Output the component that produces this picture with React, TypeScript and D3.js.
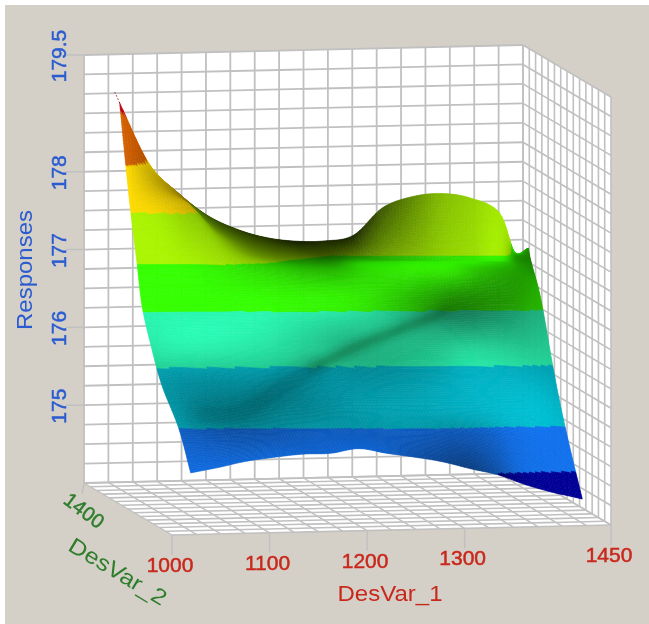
import React, { useEffect, useRef } from 'react';
import * as d3 from 'd3';

// axis ticks
const desVar1Ticks = [1000, 1100, 1200, 1300, 1450];
const responseTicks = [175, 176, 177, 178, 179.5];
const desVar2Ticks = [1400];

// surface nodes, front row first
const rowDesVar1Start = [1039, 1034, 1024, 1020, 1018, 1020, 1021, 1023, 1024];
const rowDesVar1End = [1426, 1421, 1418, 1417, 1415, 1417, 1419, 1423, 1450];
const rowDesVar2Start = [1127, 1155, 1183, 1211, 1239, 1267, 1295, 1323, 1351];
const rowDesVar2End = [1071, 1099, 1127, 1155, 1183, 1211, 1239, 1267, 1379];
const columnFractions = [0, 0.0715, 0.143, 0.214, 0.286, 0.357, 0.429, 0.5, 0.572, 0.643, 0.715, 0.786, 0.858, 0.929, 0.966, 1];

const responses = [
  [174.64, 174.71, 174.79, 174.84, 174.88, 174.89, 174.95, 174.89, 174.84, 174.78, 174.69, 174.61, 174.48, 174.38, 174.34, 174.30],
  [175.16, 175.14, 175.12, 175.12, 175.11, 175.11, 175.12, 175.14, 175.15, 175.15, 175.12, 175.06, 174.99, 174.93, 174.91, 174.88],
  [175.66, 175.62, 175.57, 175.52, 175.49, 175.47, 175.44, 175.43, 175.43, 175.43, 175.43, 175.43, 175.42, 175.42, 175.40, 175.40],
  [176.12, 176.15, 176.16, 176.16, 176.15, 176.15, 176.12, 176.06, 176.02, 176.01, 176.01, 176.01, 175.99, 175.96, 175.92, 175.88],
  [176.58, 176.58, 176.58, 176.58, 176.60, 176.61, 176.61, 176.60, 176.58, 176.57, 176.56, 176.54, 176.53, 176.53, 176.52, 176.49],
  [177.08, 177.08, 177.08, 177.06, 177.02, 176.98, 176.95, 176.94, 176.94, 176.95, 176.97, 176.95, 176.93, 176.89, 176.83, 176.75],
  [177.66, 177.68, 177.71, 177.34, 177.16, 177.08, 177.03, 177.00, 177.00, 177.02, 177.03, 177.03, 177.02, 177.00, 176.98, 176.93],
  [178.22, 178.03, 177.77, 177.45, 177.26, 177.15, 177.09, 177.05, 177.05, 177.05, 177.05, 177.05, 177.05, 177.05, 177.04, 177.03],
  [178.97, 178.18, 177.79, 177.49, 177.30, 177.18, 177.12, 177.11, 177.17, 177.51, 177.64, 177.67, 177.60, 177.40, 176.89, 176.93],
];

// light on the surface, 1 = full band colour
const lighting = [
  [0.95, 0.93, 0.9, 0.9, 0.88, 0.88, 0.88, 0.85, 0.72, 0.62, 0.55, 0.7, 0.95, 1, 1, 1],
  [0.82, 0.76, 0.72, 0.72, 0.76, 0.8, 0.8, 0.8, 0.82, 0.8, 0.78, 0.82, 0.95, 1, 1, 1],
  [0.8, 0.74, 0.7, 0.68, 0.68, 0.7, 0.76, 0.82, 0.85, 0.88, 0.92, 0.96, 1, 1.02, 1, 0.95],
  [0.95, 1, 1, 0.98, 0.94, 0.88, 0.8, 0.72, 0.72, 0.75, 0.8, 0.88, 0.88, 0.85, 0.85, 0.85],
  [1, 1, 1, 1, 1, 0.98, 0.97, 0.95, 0.88, 0.76, 0.62, 0.5, 0.55, 0.62, 0.68, 0.72],
  [1, 1, 0.97, 0.92, 0.85, 0.8, 0.75, 0.75, 0.85, 0.9, 0.92, 0.88, 0.72, 0.62, 0.62, 0.68],
  [1, 0.95, 0.8, 0.78, 0.62, 0.55, 0.55, 0.58, 0.8, 0.85, 0.9, 0.92, 0.9, 0.75, 0.6, 0.55],
  [1, 0.75, 0.6, 0.5, 0.42, 0.38, 0.36, 0.36, 0.5, 0.65, 0.75, 0.85, 0.9, 0.95, 0.6, 0.5],
  [1, 0.85, 0.55, 0.35, 0.25, 0.2, 0.12, 0.15, 0.15, 0.35, 0.55, 0.75, 0.85, 0.95, 0.9, 0.55],
];

// narrow dark folds that cross the surface, as [DesVar_1, DesVar_2, Response]
const creaseLow = [
  [1062, 1190, 175.27], [1106, 1190, 175.27], [1140, 1190, 175.52], [1181, 1190, 175.83],
];
const creaseHigh = [
  [1181, 1190, 175.83], [1229, 1190, 176.11], [1277, 1190, 176.33], [1318, 1190, 176.52],
];

const bandBreaks = [174.62, 175.15, 175.86, 176.51, 177.05, 177.66, 178.22, 178.82];
const bandColors = ['#000096', '#1070ec', '#00bacd', '#28f5b0', '#34ff00', '#aaf500', '#ffdc00', '#d66000', '#c00012'];

const peakTip = { desVar1: 1019, desVar2: 1351, response: 179.11 };

const GRID = '#c0c0c0';
const BLUE = '#2a5cd0';
const RED = '#c9281c';
const GREEN = '#2f7d2c';
const FONT = '"Liberation Sans", Arial, sans-serif';

const xScale = d3.scaleLinear().domain([1000, 1450]).range([0, 1]);
const yScale = d3.scaleLinear().domain([1050, 1400]).range([0, 1]);
const zScale = d3.scaleLinear().domain([174, 179.5]).range([0, 1]);

// parallel projection of the plot box onto the page
const project = (x: number, y: number, z: number): [number, number] => {
  const u = xScale(x), v = yScale(y), w = zScale(z);
  return [172 + 439 * u - 88 * v, 535 - 10 * u - 52 * v - 428 * w];
};

const catmull = (a: number, b: number, c: number, d: number, t: number) =>
  0.5 * (2 * b + (c - a) * t + (2 * a - 5 * b + 4 * c - d) * t * t + (3 * b - a - 3 * c + d) * t * t * t);

const along = (vals: number[], p: number) => {
  const n = vals.length - 1;
  const i = Math.min(Math.floor(p), n - 1);
  const b = vals[i], c = vals[i + 1];
  const a = i > 0 ? vals[i - 1] : 2 * b - c;
  const d = i + 2 <= n ? vals[i + 2] : 2 * c - b;
  return catmull(a, b, c, d, p - i);
};

const smooth = (grid: number[][], r: number, c: number) => along(grid.map(row => along(row, c)), r);

const desVar1Grid = responses.map((row, r) => row.map((_, c) => rowDesVar1Start[r] + (rowDesVar1End[r] - rowDesVar1Start[r]) * columnFractions[c]));
const desVar2Grid = responses.map((row, r) => row.map((_, c) => rowDesVar2Start[r] + (rowDesVar2End[r] - rowDesVar2Start[r]) * columnFractions[c]));

const App = () => {
  const svgRef = useRef<SVGSVGElement>(null);

  useEffect(() => {
    const root = d3.select(svgRef.current);
    root.selectAll('*').remove();

    root.append('rect').attr('width', 649).attr('height', 624).attr('fill', '#fff');
    root.append('rect').attr('x', 5).attr('y', 5).attr('width', 644).attr('height', 619).attr('fill', '#d4d0c8');

    const defs = root.append('defs');
    defs.append('filter').attr('id', 'soft')
      .attr('x', 0).attr('y', 0).attr('width', 1).attr('height', 1)
      .append('feGaussianBlur').attr('stdDeviation', 0.55);
    defs.append('filter').attr('id', 'creaseWide')
      .attr('filterUnits', 'userSpaceOnUse').attr('x', 0).attr('y', 0).attr('width', 649).attr('height', 624)
      .append('feGaussianBlur').attr('stdDeviation', 8);
    defs.append('filter').attr('id', 'creaseThin')
      .attr('filterUnits', 'userSpaceOnUse').attr('x', 0).attr('y', 0).attr('width', 649).attr('height', 624)
      .append('feGaussianBlur').attr('stdDeviation', 5);

    const svg = root.append('g').attr('filter', 'url(#soft)');

    const [x0, x1] = xScale.domain();
    const [y0, y1] = yScale.domain();
    const [z0, z1] = zScale.domain();
    const line = d3.line();
    const gridXs = d3.range(x0, x1 + 1, 25);
    const gridYs = d3.range(y0, y1 + 1, 25);
    const gridZs = d3.range(z0, z1 + 0.01, 0.25);

    const wall = (pts: [number, number][]) =>
      svg.append('path').attr('d', line(pts) + 'Z').attr('fill', '#fff');
    wall([project(x0, y1, z0), project(x1, y1, z0), project(x1, y1, z1), project(x0, y1, z1)]);
    wall([project(x1, y1, z0), project(x1, y0, z0), project(x1, y0, z1), project(x1, y1, z1)]);
    wall([project(x0, y0, z0), project(x1, y0, z0), project(x1, y1, z0), project(x0, y1, z0)]);

    const gridLine = (a: [number, number], b: [number, number], w = 1.8) =>
      svg.append('path').attr('d', line([a, b])).attr('fill', 'none').attr('stroke', GRID).attr('stroke-width', w);

    gridXs.forEach(x => {
      gridLine(project(x, y1, z0), project(x, y1, z1));
      gridLine(project(x, y0, z0), project(x, y1, z0), 1.4);
    });
    gridYs.forEach(y => {
      gridLine(project(x1, y, z0), project(x1, y, z1), 1.6);
      gridLine(project(x0, y, z0), project(x1, y, z0), 1.6);
    });
    gridZs.forEach(z => {
      gridLine(project(x0, y1, z), project(x1, y1, z));
      gridLine(project(x1, y1, z), project(x1, y0, z), 1.6);
    });

    // surface mesh
    const subR = 24, subC = 9;
    const nr = (responses.length - 1) * subR;
    const nc = (columnFractions.length - 1) * subC;
    const verts: [number, number][][] = d3.range(nr + 1).map(i =>
      d3.range(nc + 1).map(j => {
        const r = i / subR, c = j / subC;
        return project(smooth(desVar1Grid, r, c), smooth(desVar2Grid, r, c), smooth(responses, r, c));
      })
    );
    const band = d3.scaleThreshold<number, string>().domain(bandBreaks).range(bandColors);
    const cells: { d: string; fill: string }[] = [];
    for (let i = nr - 1; i >= 0; i--) {
      for (let j = 0; j < nc; j++) {
        const r = (i + 0.5) / subR, c = (j + 0.5) / subC;
        const base = d3.rgb(band(smooth(responses, r, c)));
        const k = Math.max(0.05, smooth(lighting, r, c));
        const fill = d3.rgb(Math.min(255, base.r * k), Math.min(255, base.g * k), Math.min(255, base.b * k)).formatHex();
        cells.push({ d: line([verts[i][j], verts[i][j + 1], verts[i + 1][j + 1], verts[i + 1][j]]) + 'Z', fill });
      }
    }
    svg.append('g').selectAll('path').data(cells).join('path')
      .attr('d', d => d.d).attr('fill', d => d.fill).attr('stroke', d => d.fill).attr('stroke-width', 0.6);

    // folds
    const foldLine = d3.line<number[]>().curve(d3.curveCatmullRom).x(d => project(d[0], d[1], d[2])[0]).y(d => project(d[0], d[1], d[2])[1]);
    svg.append('path').attr('d', foldLine(creaseLow)).attr('fill', 'none').attr('stroke', '#002a2a')
      .attr('stroke-width', 12).attr('stroke-opacity', 0.42).attr('stroke-linecap', 'round').attr('filter', 'url(#creaseWide)');
    svg.append('path').attr('d', foldLine(creaseHigh)).attr('fill', 'none').attr('stroke', '#002a10')
      .attr('stroke-width', 6).attr('stroke-opacity', 0.55).attr('stroke-linecap', 'round').attr('filter', 'url(#creaseThin)');

    // thin tip above the top of the spike
    svg.append('path')
      .attr('d', line([project(desVar1Grid[8][0], desVar2Grid[8][0], responses[8][0]), project(peakTip.desVar1, peakTip.desVar2, peakTip.response)]))
      .attr('stroke', '#a01818').attr('stroke-width', 1).attr('stroke-dasharray', '1.5 2');

    // Response axis
    responseTicks.forEach(z => {
      const [px, py] = project(x0, y1, z);
      gridLine([px - 18, py], [px, py], 1.5);
      svg.append('text').text(z)
        .attr('transform', `translate(${px - 18},${py + 1}) rotate(-90)`)
        .attr('text-anchor', 'middle').attr('font-family', FONT).attr('font-size', 21)
        .attr('fill', BLUE).attr('stroke', BLUE).attr('stroke-width', 0.5);
    });
    svg.append('text').text('Responses')
      .attr('transform', 'translate(32,270) rotate(-90)')
      .attr('text-anchor', 'middle').attr('font-family', FONT).attr('font-size', 22)
      .attr('textLength', 120).attr('lengthAdjust', 'spacingAndGlyphs').attr('fill', BLUE);

    // DesVar_1 axis
    desVar1Ticks.forEach(x => {
      const [px, py] = project(x, y0, z0);
      gridLine([px, py], [px, py + 20], 1.5);
      svg.append('text').text(x)
        .attr('x', px - 2).attr('y', py + 37)
        .attr('text-anchor', 'middle').attr('font-family', FONT).attr('font-size', 21)
        .attr('fill', RED).attr('stroke', RED).attr('stroke-width', 0.5);
    });
    svg.append('text').text('DesVar_1')
      .attr('x', 390).attr('y', 601)
      .attr('text-anchor', 'middle').attr('font-family', FONT).attr('font-size', 22)
      .attr('textLength', 105).attr('lengthAdjust', 'spacingAndGlyphs').attr('fill', RED);

    // DesVar_2 axis
    desVar2Ticks.forEach(y => {
      const [px, py] = project(x0, y, z0);
      gridLine([px, py], [px - 2, py + 11], 1.5);
      svg.append('text').text(y)
        .attr('transform', `translate(${px - 4},${py + 33}) rotate(37)`)
        .attr('text-anchor', 'middle').attr('font-family', FONT).attr('font-size', 20)
        .attr('fill', GREEN).attr('stroke', GREEN).attr('stroke-width', 0.5);
    });
    svg.append('text').text('DesVar_2')
      .attr('transform', 'translate(114,578) rotate(31)')
      .attr('text-anchor', 'middle').attr('font-family', FONT).attr('font-size', 22)
      .attr('textLength', 110).attr('lengthAdjust', 'spacingAndGlyphs').attr('fill', GREEN);
  }, []);

  return <svg ref={svgRef} width={649} height={624} style={{ position: 'absolute', left: 0, top: 0, display: 'block' }} />;
};

export default App;
